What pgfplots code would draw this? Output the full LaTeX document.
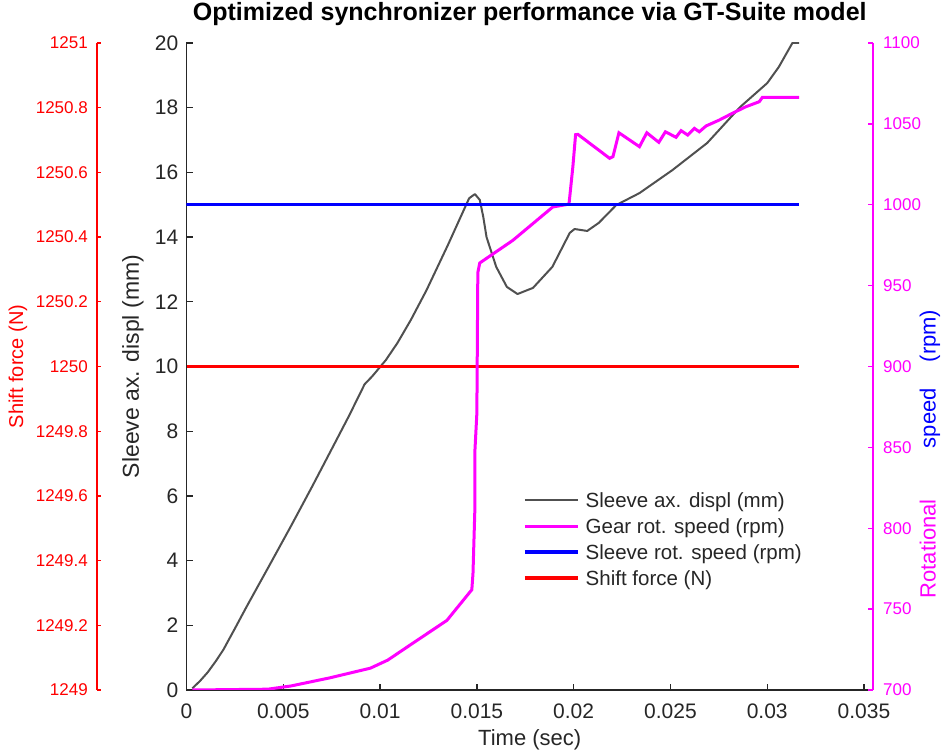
\documentclass[border=0pt]{standalone}
\usepackage{fontspec}
\setmainfont{Liberation Sans}
\usepackage{pgfplots}
\pgfplotsset{compat=1.18}
\definecolor{axgray}{RGB}{38,38,38}
\definecolor{linegray}{RGB}{80,80,80}
\definecolor{mymag}{RGB}{255,0,255}
\begin{document}
\begin{tikzpicture}
\useasboundingbox (-186.5pt,-65pt) rectangle (764.5pt,690pt);
% main axis: sleeve displacement
\begin{axis}[
  scale only axis, width=686.5pt, height=647pt, at={(0pt,0pt)}, anchor=south west,
  xmin=0, xmax=0.035465, ymin=0, ymax=20,
  scaled x ticks=false, scaled y ticks=false,
  axis x line*=bottom, axis y line*=left,
  axis line style={axgray, line width=1.3pt},
  tick align=inside, major tick length=6pt,
  tick style={axgray, line width=1.3pt},
  xtick={0,0.005,0.01,0.015,0.02,0.025,0.03,0.035},
  xticklabels={0,0.005,0.01,0.015,0.02,0.025,0.03,0.035},
  ytick={0,2,4,6,8,10,12,14,16,18,20},
  yticklabels={0,2,4,6,8,10,12,14,16,18,20},
  /pgf/number format/assume math mode=true,
  ticklabel style={font=\fontsize{21}{25}\selectfont, text=axgray},
  xticklabel style={anchor=base, yshift=-28pt, inner sep=0pt},
  yticklabel style={anchor=east, xshift=-8pt, inner sep=0pt},
  title={Optimized synchronizer performance via GT-Suite model},
  title style={at={(0.5,1)}, anchor=base, yshift=16pt, inner sep=0pt,
    font=\fontsize{25}{30}\selectfont\bfseries},
  xlabel={Time (sec)},
  xlabel style={at={(0.5,0)}, anchor=base, yshift=-56pt, inner sep=0pt,
    font=\fontsize{22}{26}\selectfont, text=axgray},
  ylabel={Sleeve ax. displ (mm)},
  ylabel style={at={(-0.0779,0.5)}, anchor=center, inner sep=0pt,
    font=\fontsize{23}{27}\selectfont, text=axgray},
]
\addplot[linegray, line width=2pt, line join=round] coordinates {
(0.0003,0.05) (0.0007,0.28) (0.0011,0.55) (0.0015,0.88) (0.0019,1.24)
(0.0025,1.90) (0.0031,2.57) (0.0037,3.22) (0.0043,3.87) (0.0054,5.07)
(0.0065,6.30) (0.0076,7.56) (0.0084,8.48) (0.0092,9.45) (0.0096,9.70)
(0.0103,10.20) (0.0109,10.73) (0.0116,11.45) (0.0124,12.36) (0.0135,13.75)
(0.0146,15.20) (0.0149,15.33) (0.01515,15.15) (0.01533,14.63) (0.0155,14.00)
(0.0160,13.08) (0.01655,12.46) (0.0171,12.24) (0.0179,12.43) (0.0189,13.08)
(0.0198,14.13) (0.02005,14.25) (0.0207,14.19) (0.0213,14.44) (0.0222,14.99)
(0.0234,15.36) (0.0251,16.07) (0.0269,16.91) (0.0286,18.02) (0.0300,18.76)
(0.0306,19.26) (0.0313,20.0) (0.03165,20.0)
};
\end{axis}
% shift force axis
\begin{axis}[
  scale only axis, width=776pt, height=647pt, at={(-89.5pt,0pt)}, anchor=south west,
  xmin=-0.004624, xmax=0.035465, ymin=1249, ymax=1251,
  scaled x ticks=false, scaled y ticks=false,
  hide x axis, axis y line*=left,
  axis line style={red, line width=1.3pt},
  tick align=inside, major tick length=4pt,
  tick style={red, line width=1.3pt},
  ytick={1249,1249.2,1249.4,1249.6,1249.8,1250,1250.2,1250.4,1250.6,1250.8,1251},
  yticklabels={1249,1249.2,1249.4,1249.6,1249.8,1250,1250.2,1250.4,1250.6,1250.8,1251},
  /pgf/number format/assume math mode=true,
  yticklabel style={anchor=east, xshift=-9pt, inner sep=0pt,
    font=\fontsize{17}{20}\selectfont, text=red},
  ylabel={Shift force (N)},
  ylabel style={at={(-0.1018,0.5)}, anchor=center, inner sep=0pt,
    font=\fontsize{20}{24}\selectfont, text=red},
]
\addplot[red, line width=3.5pt] coordinates {(0,1250) (0.03165,1250)};
\end{axis}
% rotational speed axis
\begin{axis}[
  scale only axis, width=686.5pt, height=647pt, at={(0pt,0pt)}, anchor=south west,
  xmin=0, xmax=0.035465, ymin=700, ymax=1100,
  scaled x ticks=false, scaled y ticks=false,
  hide x axis, axis y line*=right,
  axis line style={mymag, line width=1.3pt},
  tick align=inside, major tick length=5pt,
  tick style={mymag, line width=1.3pt},
  ytick={700,750,800,850,900,950,1000,1050,1100},
  yticklabels={700,750,800,850,900,950,1000,1050,1100},
  /pgf/number format/assume math mode=true,
  yticklabel style={anchor=west, xshift=10pt, inner sep=0pt,
    font=\fontsize{17}{20}\selectfont, text=mymag},
  ylabel={{\color{mymag}Rotational}\hspace{51pt}{\color{blue}speed}\hspace{26pt}{\color{blue}(rpm)}},
  ylabel style={at={(1.083,0.3648)}, anchor=center, inner sep=0pt,
    font=\fontsize{22}{26}\selectfont},
  legend style={draw=none, fill=none, at={(0.4902,0.3083)}, anchor=north west,
    inner sep=0pt, font=\fontsize{20.5}{24}\selectfont, text=axgray,
    row sep=7pt, column sep=6pt,
    nodes={inner sep=0pt, text height=17pt, text depth=2pt}},
  legend cell align=left,
  legend image code/.code={\draw[#1] (0pt,0pt) -- (53pt,0pt);},
]
\addlegendimage{linegray, line width=2pt}
\addlegendentry{Sleeve ax. displ (mm)}
\addplot[mymag, line width=3pt] coordinates {
(0.0003,700) (0.0042,700.5) (0.0054,702.5) (0.0074,707.5) (0.0095,713.5)
(0.0104,718.5) (0.0117,729) (0.01345,743) (0.01474,762) (0.0148,772)
(0.0149,813) (0.0149,848) (0.0150,871) (0.01505,958) (0.01515,964)
(0.01686,978) (0.01892,998.6) (0.01976,1000.4) (0.01996,1023.5) (0.02010,1043.3)
(0.02022,1043.5) (0.02186,1028.7) (0.02203,1029.7) (0.02234,1044.5) (0.02340,1035.9)
(0.02378,1044.5) (0.02440,1038.6) (0.02474,1045.1) (0.02529,1041.7) (0.02555,1045.8)
(0.02589,1043.1) (0.02624,1047.2) (0.02649,1045.1) (0.02684,1048.7) (0.02753,1052.4)
(0.02821,1056.6) (0.02890,1060.6) (0.02959,1063.7) (0.02975,1066.4) (0.03165,1066.4)
};
\addlegendentry{Gear rot. speed (rpm)}
\addplot[blue, line width=3.5pt] coordinates {(0,1000) (0.03165,1000)};
\addlegendentry{Sleeve rot. speed (rpm)}
\addlegendimage{red, line width=3.5pt}
\addlegendentry{Shift force (N)}
\end{axis}
\end{tikzpicture}
\end{document}
